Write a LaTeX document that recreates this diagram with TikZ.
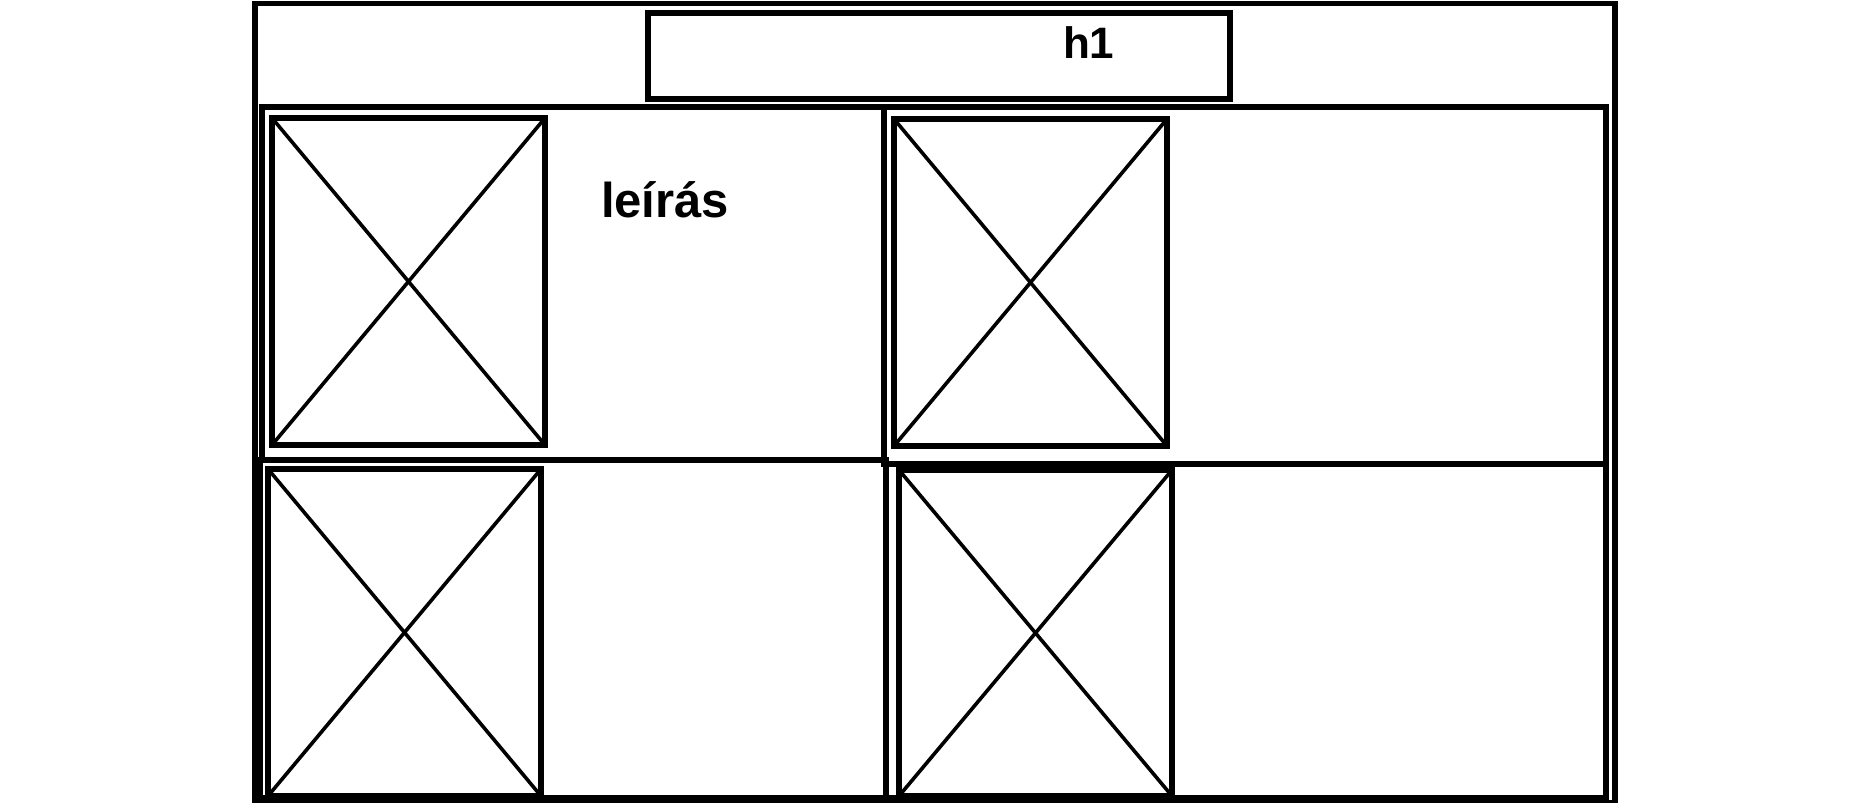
\documentclass[tikz,border=0pt]{standalone}
\usepackage{fontspec}
\setmainfont{Liberation Sans}
\usetikzlibrary{fit}
\begin{document}
\begin{tikzpicture}[x=0.5pt,y=-0.5pt,
  framebox/.style={draw=black,line width=2.6pt,inner sep=0pt,outer sep=0pt},
  cellbox/.style={draw=black,line width=2.6pt,inner sep=0pt,outer sep=0pt},
  imgbox/.style={draw=black,line width=2.6pt,inner sep=0pt,outer sep=0pt},
  cross/.style={draw=black,line width=1.8pt},
  txt/.style={font=\bfseries,inner sep=0pt,outer sep=0pt,anchor=base west}]
\useasboundingbox (0,0) rectangle (1849,803);
% outer frame
\node[framebox,fit={(255,3.5) (1615,803)}] (outer) {};
% header box
\node[framebox,fit={(648,13) (1230,99)}] (header) {};
\node[txt,font=\bfseries\fontsize{22}{22}\selectfont] (h1) at (1063,58) {h1};
% cells
\node[cellbox,fit={(262,107) (884,460)}] (cellA) {};
\node[cellbox,fit={(884,107) (1606,464)}] (cellB) {};
\node[cellbox,fit={(260,460) (886,798)}] (cellC) {};
\node[cellbox,fit={(886,464) (1606,798)}] (cellD) {};
% image placeholders
\node[imgbox,fit={(272,118) (545,445)}] (imgA) {};
\node[imgbox,fit={(894,119) (1167,446)}] (imgB) {};
\node[imgbox,fit={(268,469) (541,796)}] (imgC) {};
\node[imgbox,fit={(899,470) (1172,796)}] (imgD) {};
\foreach \n in {imgA,imgB,imgC,imgD}{
  \draw[cross] (\n.north west) -- (\n.south east);
  \draw[cross] (\n.north east) -- (\n.south west);
}
% description
\node[txt,font=\bfseries\fontsize{24.5}{24.5}\selectfont] (desc) at (601,217) {leírás};
\end{tikzpicture}
\end{document}
